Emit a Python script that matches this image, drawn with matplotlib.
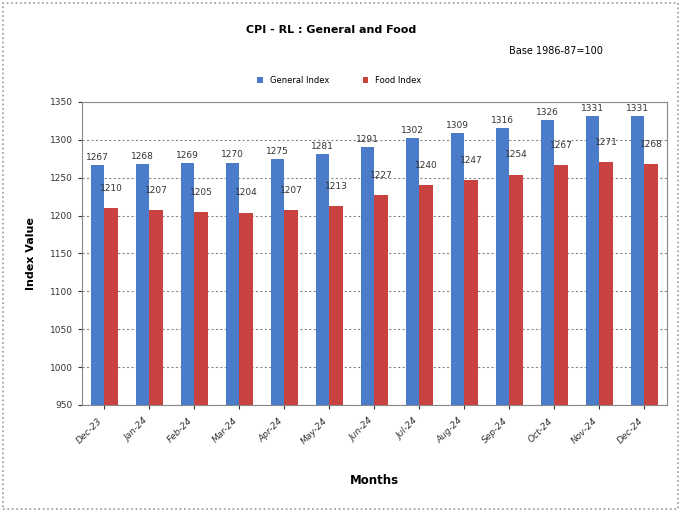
import numpy as np
import matplotlib
matplotlib.use("Agg")
import matplotlib.pyplot as plt
from matplotlib.patches import Rectangle

# データ
months = ["Dec-23", "Jan-24", "Feb-24", "Mar-24", "Apr-24", "May-24", "Jun-24",
          "Jul-24", "Aug-24", "Sep-24", "Oct-24", "Nov-24", "Dec-24"]
general_index = [1267, 1268, 1269, 1270, 1275, 1281, 1291, 1302, 1309, 1316, 1326, 1331, 1331]
food_index = [1210, 1207, 1205, 1204, 1207, 1213, 1227, 1240, 1247, 1254, 1267, 1271, 1268]

blue = "#4a7cc9"
red = "#c8423f"

fig = plt.figure(figsize=(6.82, 5.12), dpi=100)
ax = fig.add_axes([0.120, 0.209, 0.858, 0.592])

x = np.arange(len(months))
w = 0.30
b1 = ax.bar(x - w / 2, general_index, width=w, color=blue, zorder=3)
b2 = ax.bar(x + w / 2, food_index, width=w, color=red, zorder=3)

# データラベル
for xi, v in zip(x, general_index):
    ax.text(xi - w / 2, v + 4, str(v), ha="center", va="bottom", fontsize=6.5, color="#333333")
for xi, v in zip(x, food_index):
    ax.text(xi + w / 2, v + 20, str(v), ha="center", va="bottom", fontsize=6.5, color="#333333")

ax.set_xlim(-0.5, len(months) - 0.5)
ax.set_ylim(950, 1350)
ax.set_yticks(range(950, 1351, 50))
ax.set_xticks(x)
ax.set_xticklabels(months, rotation=45, ha="right", fontsize=6.5, style="italic")
ax.tick_params(axis="y", labelsize=6.5, colors="#333333", length=3)
ax.tick_params(axis="x", length=3, colors="#333333", pad=5)
ax.grid(axis="y", linestyle=(0, (2, 2)), color="#888888", linewidth=0.8, zorder=0)
for s in ax.spines.values():
    s.set_color("#888888")

ax.set_ylabel("Index Value", fontsize=8, fontweight="bold", labelpad=10)
ax.set_xlabel("Months", fontsize=8.5, fontweight="bold", labelpad=20)

fig.text(0.485, 0.935, "CPI - RL : General and Food", ha="center", fontsize=8, fontweight="bold")
fig.text(0.815, 0.895, "Base 1986-87=100", ha="center", fontsize=7)
ax.legend([b1, b2], ["General Index", "Food Index"], loc="lower center",
          bbox_to_anchor=(0.44, 1.03), ncol=2, frameon=False, fontsize=6,
          handlelength=0.7, handleheight=0.7, columnspacing=4)

# 外枠
fig.patches.append(Rectangle((0.004, 0.006), 0.99, 0.988, transform=fig.transFigure,
                             fill=False, edgecolor="#999999", linestyle=":", linewidth=1.2))

fig.savefig("out.png", dpi=100)
